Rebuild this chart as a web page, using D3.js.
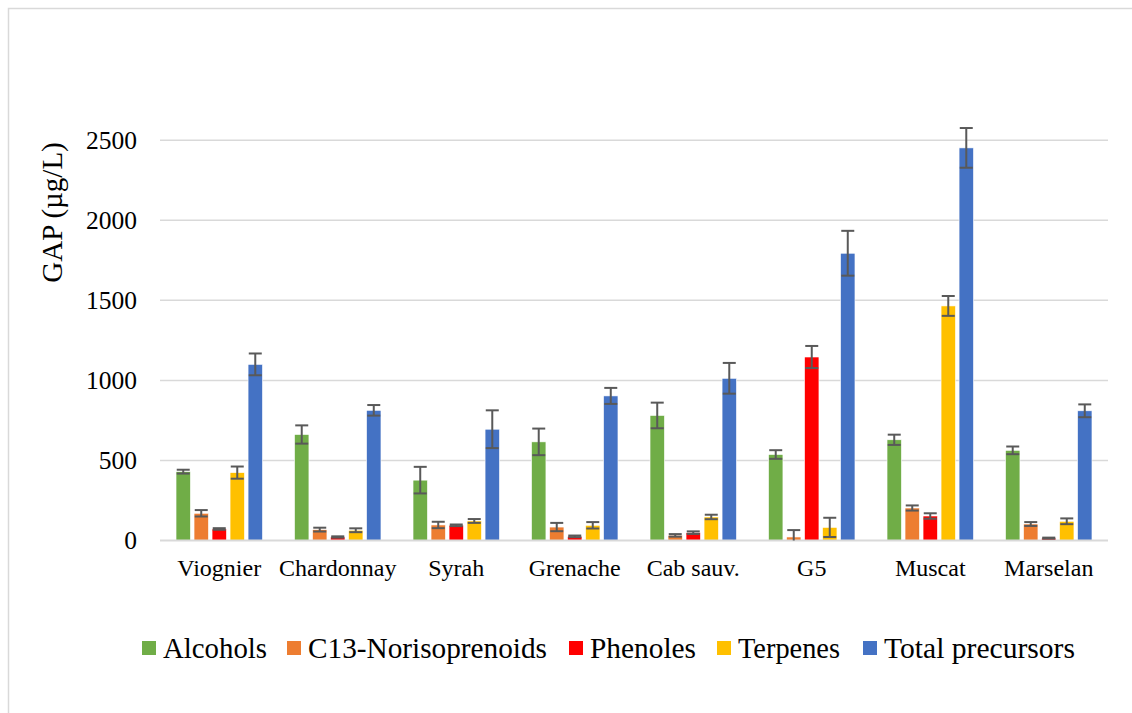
<!DOCTYPE html>
<html>
<head>
<meta charset="utf-8">
<script src="https://cdn.jsdelivr.net/npm/d3@7"></script>
<style>
  html, body { margin: 0; padding: 0; background: #fff; }
  svg { display: block; font-family: "Liberation Serif", "Times New Roman", serif; }
</style>
</head>
<body>
<svg id="chart" width="1132" height="713"></svg>
<script>
const categories = ["Viognier", "Chardonnay", "Syrah", "Grenache", "Cab sauv.", "G5", "Muscat", "Marselan"];
const seriesNames = ["Alcohols", "C13-Norisoprenoids", "Phenoles", "Terpenes", "Total precursors"];
const seriesColors = ["#70AD47", "#ED7D31", "#FF0000", "#FFC000", "#4472C4"];

const alcohols      = [430, 662, 377, 616, 781, 537, 629, 563];
const alcoholsErr   = [12, 57, 83, 83, 80, 27, 32, 24];
const c13           = [170, 68, 97, 84, 32, 22, 203, 103];
const c13Err        = [20, 12, 20, 26, 8, 43, 16, 12];
const phenoles      = [72, 22, 95, 26, 49, 1146, 153, 15];
const phenolesErr   = [5, 4, 5, 5, 8, 69, 17, 3];
const terpenes      = [424, 64, 122, 95, 147, 82, 1465, 120];
const terpenesErr   = [38, 12, 12, 20, 14, 60, 62, 18];
const total         = [1100, 813, 695, 903, 1013, 1794, 2452, 810];
const totalErr      = [68, 33, 118, 50, 96, 140, 124, 40];

const yTicks = [0, 500, 1000, 1500, 2000, 2500];
const yTitle = "GAP (µg/L)";

const values = [alcohols, c13, phenoles, terpenes, total];
const errors = [alcoholsErr, c13Err, phenolesErr, terpenesErr, totalErr];

const svg = d3.select("#chart");

// outer chart border
svg.append("rect")
  .attr("x", 8.5).attr("y", 8.5)
  .attr("width", 1140).attr("height", 720)
  .attr("fill", "none").attr("stroke", "#d9d9d9").attr("stroke-width", 1.5);

const plot = { left: 160, right: 1108, top: 60, bottom: 540.5 };

const x0 = d3.scaleBand().domain(categories).range([plot.left, plot.right]).padding(0);
const x1 = d3.scaleBand().domain(seriesNames).range([0, x0.bandwidth()])
  .paddingInner(0.2).paddingOuter(0.89);
const y = d3.scaleLinear().domain([0, 2500]).range([plot.bottom, 140.2]);

// gridlines
svg.append("g").selectAll("line").data(yTicks.filter(d => d > 0)).join("line")
  .attr("x1", plot.left).attr("x2", plot.right)
  .attr("y1", d => y(d)).attr("y2", d => y(d))
  .attr("stroke", "#d9d9d9").attr("stroke-width", 1.5);

// y tick labels via axis
const yAxis = d3.axisLeft(y).tickValues(yTicks).tickSize(0).tickPadding(23).tickFormat(d3.format("d"));
const yg = svg.append("g").attr("transform", `translate(${plot.left},0)`).call(yAxis);
yg.select(".domain").remove();
yg.selectAll("text").attr("font-size", 25.5).attr("fill", "#000")
  .attr("font-family", "Liberation Serif, Times New Roman, serif");

// bars
const groups = svg.append("g").selectAll("g").data(seriesNames).join("g")
  .attr("fill", (d, i) => seriesColors[i]);

groups.each(function(s, si) {
  const g = d3.select(this);
  g.selectAll("rect").data(categories).join("rect")
    .attr("x", c => x0(c) + x1(s))
    .attr("width", x1.bandwidth())
    .attr("y", (c, ci) => y(values[si][ci]))
    .attr("height", (c, ci) => y(0) - y(values[si][ci]))
    .attr("stroke", "#ffffff").attr("stroke-width", 0.6);
});

// x-axis line
svg.append("line")
  .attr("x1", plot.left).attr("x2", plot.right)
  .attr("y1", y(0)).attr("y2", y(0))
  .attr("stroke", "#d9d9d9").attr("stroke-width", 2);

// error bars
const eg = svg.append("g").attr("stroke", "#595959").attr("stroke-width", 2).attr("fill", "none");
seriesNames.forEach((s, si) => {
  categories.forEach((c, ci) => {
    const cx = x0(c) + x1(s) + x1.bandwidth() / 2;
    const v = values[si][ci], e = errors[si][ci];
    const hi = v + e, lo = Math.max(0, v - e);
    eg.append("line").attr("x1", cx).attr("x2", cx).attr("y1", y(hi)).attr("y2", y(lo));
    eg.append("line").attr("x1", cx - 6.5).attr("x2", cx + 6.5).attr("y1", y(hi)).attr("y2", y(hi));
    if (v - e > 0) {
      eg.append("line").attr("x1", cx - 6.5).attr("x2", cx + 6.5).attr("y1", y(lo)).attr("y2", y(lo));
    }
  });
});

// x category labels via axis
const xAxis = d3.axisBottom(x0).tickSize(0).tickPadding(18);
const xg = svg.append("g").attr("transform", `translate(0,${y(0)})`).call(xAxis);
xg.select(".domain").remove();
xg.selectAll("text").attr("font-size", 24).attr("fill", "#000")
  .attr("font-family", "Liberation Serif, Times New Roman, serif");

// y title
svg.append("text")
  .attr("transform", "translate(62,212.5) rotate(-90)")
  .attr("text-anchor", "middle")
  .attr("font-size", 29)
  .attr("fill", "#000")
  .text(yTitle);

// legend
const legendX = [142, 287, 569, 717, 863];
const legendW = [104, 239, 106, 102, 191];
const lg = svg.append("g");
seriesNames.forEach((s, i) => {
  lg.append("rect").attr("x", legendX[i]).attr("y", 641).attr("width", 14).attr("height", 14)
    .attr("fill", seriesColors[i]);
  lg.append("text").attr("x", legendX[i] + 21).attr("y", 657.5)
    .attr("font-size", 29.5).attr("fill", "#000")
    .attr("textLength", legendW[i]).attr("lengthAdjust", "spacingAndGlyphs")
    .text(s);
});
</script>
</body>
</html>
